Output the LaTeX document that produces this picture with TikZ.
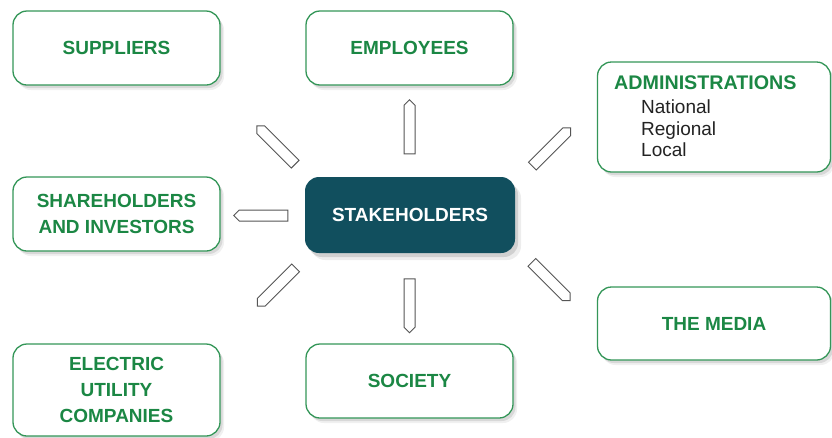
\documentclass[tikz,border=0pt]{standalone}
\usepackage{fontspec}
\setmainfont{Liberation Sans}
\usetikzlibrary{shapes.arrows,shadows}
\definecolor{boxgreen}{RGB}{52,150,88}
\definecolor{txtgreen}{RGB}{27,135,68}
\definecolor{teal}{RGB}{17,79,94}
\definecolor{pencilgray}{RGB}{85,85,85}
\definecolor{subgray}{RGB}{35,35,35}
\tikzset{
  softshadow/.style={drop shadow={shadow xshift=4pt,shadow yshift=-5pt,fill=black,opacity=0.06},
                     drop shadow={shadow xshift=2.5pt,shadow yshift=-3pt,fill=black,opacity=0.10}},
  gbox/.style={draw=boxgreen,line width=1.3pt,fill=white,rounded corners=14pt,softshadow,
     inner sep=0pt,align=center,text=txtgreen,font=\fontsize{19}{26}\selectfont\bfseries},
  cbox/.style={fill=teal,rounded corners=14pt,
     drop shadow={shadow xshift=6pt,shadow yshift=-7pt,fill=black,opacity=0.07},
     drop shadow={shadow xshift=3pt,shadow yshift=-4pt,fill=black,opacity=0.12},
     inner sep=0pt,text=white,font=\fontsize{19}{22}\selectfont\bfseries},
  pencil/.style={shape=single arrow,draw=pencilgray,line width=1pt,fill=white,
     minimum width=11pt,minimum height=54pt,single arrow head extend=0pt,
     single arrow tip angle=90,inner sep=0pt}
}
\begin{document}
\begin{tikzpicture}[x=1pt,y=-1pt]
\useasboundingbox (0,0) rectangle (832,437);
\node[gbox,minimum width=207pt,minimum height=74pt] (sup) at (116.5,48) {SUPPLIERS};
\node[gbox,minimum width=207pt,minimum height=74pt] (emp) at (409.5,48) {EMPLOYEES};
\node[gbox,minimum width=233pt,minimum height=110pt] (adm) at (714,117) {};
\node[anchor=base west,text=txtgreen,font=\fontsize{19.7}{22}\selectfont\bfseries,inner sep=0pt] (admt) at (614,89) {ADMINISTRATIONS};
\node[anchor=north west,text=subgray,align=left,font=\fontsize{19}{21.5}\selectfont,inner sep=0pt] (admsub) at (641,100) {National\\Regional\\Local};
\node[gbox,minimum width=207pt,minimum height=74pt] (sha) at (116.5,214) {SHAREHOLDERS\\AND INVESTORS};
\node[cbox,minimum width=210pt,minimum height=76pt] (stk) at (410,215) {STAKEHOLDERS};
\node[gbox,minimum width=233pt,minimum height=73pt] (med) at (714,323.5) {THE MEDIA};
\node[gbox,minimum width=207pt,minimum height=92pt] (ele) at (116.5,390) {ELECTRIC\\UTILITY\\COMPANIES};
\node[gbox,minimum width=207pt,minimum height=74pt] (soc) at (409.5,381) {SOCIETY};
\node[pencil,rotate=90] (p1) at (409.5,129.5) {};
\node[pencil,rotate=-90] (p2) at (409.5,303) {};
\node[pencil,rotate=180] (p3) at (263.5,215.5) {};
\node[pencil,rotate=135] (p4) at (278,147) {};
\node[pencil,rotate=45] (p5) at (549.5,149) {};
\node[pencil,rotate=225] (p6) at (278.5,285) {};
\node[pencil,rotate=-45] (p7) at (549,279.5) {};
\end{tikzpicture}
\end{document}
